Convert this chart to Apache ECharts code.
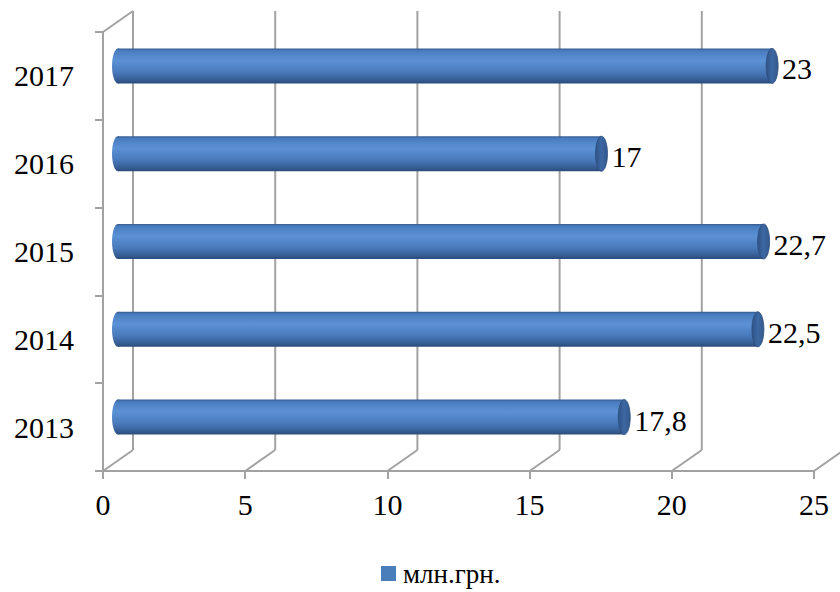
<!DOCTYPE html>
<html>
<head>
<meta charset="utf-8">
<script src="https://cdn.jsdelivr.net/npm/echarts@6/dist/echarts.min.js"></script>
<style>
  html, body { margin: 0; padding: 0; background: #fff; }
  #chart { width: 840px; height: 592px; }
</style>
</head>
<body>
<div id="chart"></div>
<script>
// Yearly amounts, million hryvnias
const categories = ['2013', '2014', '2015', '2016', '2017'];
const values = [17.8, 22.5, 22.7, 17, 23];
const xTicks = [0, 5, 10, 15, 20, 25];
const seriesName = 'млн.грн.';

// oblique depth of the box (back wall) and of the bar centre line
const DEPTH_X = 30, DEPTH_Y = -21;
const MID_X = 15, MID_Y = -10;
const WALL = '#a2a2a2';
const FONT = '"Liberation Serif", "Times New Roman", serif';

function fmt(v) { return String(v).replace('.', ','); }

const chart = echarts.init(document.getElementById('chart'), null, { renderer: 'svg' });

const option = {
  animation: false,
  grid: { left: 103, right: 26, top: 32, bottom: 121 },
  xAxis: {
    type: 'value', min: 0, max: 25, interval: 5,
    axisLine: { show: true, lineStyle: { color: WALL, width: 2 } },
    axisTick: { show: true, length: 8, lineStyle: { color: WALL, width: 2 } },
    splitLine: { show: false },
    axisLabel: { color: '#000', fontFamily: FONT, fontSize: 30, margin: 18 }
  },
  yAxis: {
    type: 'category', data: categories,
    axisLine: { show: true, lineStyle: { color: WALL, width: 2 } },
    axisTick: { show: true, length: 8, lineStyle: { color: WALL, width: 2 } },
    axisLabel: { color: '#000', fontFamily: FONT, fontSize: 30, margin: 29 }
  },
  legend: {
    left: 381, top: 558,
    padding: 0,
    icon: 'rect', itemWidth: 15, itemHeight: 15, itemGap: 6,
    textStyle: { color: '#000', fontFamily: 'Liberation Serif', fontSize: 27, lineHeight: 31, padding: [0, 0, 0, 2] },
    data: [seriesName]
  },
  series: [
    {
      // floor diagonals and back-wall grid lines, one per tick
      type: 'custom',
      silent: true,
      clip: false,
      z: 1,
      data: xTicks.map(v => [v]),
      renderItem: function (params, api) {
        const cs = params.coordSys;
        const p = api.coord([api.value(0), 0]);
        const x = p[0];
        const bottom = cs.y + cs.height;
        const top = cs.y;
        const style = { stroke: WALL, lineWidth: 2, fill: null };
        const children = [
          { type: 'line', shape: { x1: x, y1: bottom, x2: x + DEPTH_X, y2: bottom + DEPTH_Y }, style: style },
          { type: 'line', shape: { x1: x + DEPTH_X, y1: bottom + DEPTH_Y, x2: x + DEPTH_X, y2: top + DEPTH_Y }, style: style }
        ];
        if (api.value(0) === 0) {
          // top edge of the side wall
          children.push({ type: 'line', shape: { x1: x, y1: top, x2: x + DEPTH_X, y2: top + DEPTH_Y }, style: style });
        }
        return { type: 'group', children: children };
      }
    },
    {
      // cylinder bars
      name: seriesName,
      type: 'custom',
      clip: false,
      z: 3,
      itemStyle: { color: '#4a7ebb' },
      data: values.map((v, i) => [v, i]),
      renderItem: function (params, api) {
        const v = api.value(0);
        const idx = api.value(1);
        const start = api.coord([0, idx]);
        const end = api.coord([v, idx]);
        const h = 35, rx = 6;
        const x0 = start[0] + MID_X, x1 = end[0] + MID_X;
        const cy = start[1] + MID_Y;
        const bodyFill = new echarts.graphic.LinearGradient(0, 0, 0, 1, [
          { offset: 0, color: '#365b8f' },
          { offset: 0.07, color: '#4a7dbf' },
          { offset: 0.35, color: '#5b92d6' },
          { offset: 0.7, color: '#4878b9' },
          { offset: 0.9, color: '#355d94' },
          { offset: 1, color: '#2a4b7a' }
        ]);
        const capFill = new echarts.graphic.LinearGradient(0, 0, 1, 0, [
          { offset: 0, color: '#2f5487' },
          { offset: 0.5, color: '#3d67a2' },
          { offset: 1, color: '#34598d' }
        ]);
        return {
          type: 'group',
          children: [
            { type: 'ellipse', shape: { cx: x0, cy: cy, rx: rx, ry: h / 2 }, style: { fill: bodyFill } },
            { type: 'rect', shape: { x: x0, y: cy - h / 2, width: x1 - x0, height: h }, style: { fill: bodyFill } },
            { type: 'ellipse', shape: { cx: x1, cy: cy, rx: rx, ry: h / 2 }, style: { fill: capFill, stroke: '#2c4e7e', lineWidth: 0.8 } },
            {
              type: 'text',
              style: {
                x: x1 + rx + 4, y: cy + 3,
                text: fmt(v),
                fill: '#000',
                font: '30px ' + FONT,
                align: 'left', verticalAlign: 'middle'
              }
            }
          ]
        };
      }
    }
  ]
};

chart.setOption(option);
</script>
</body>
</html>
